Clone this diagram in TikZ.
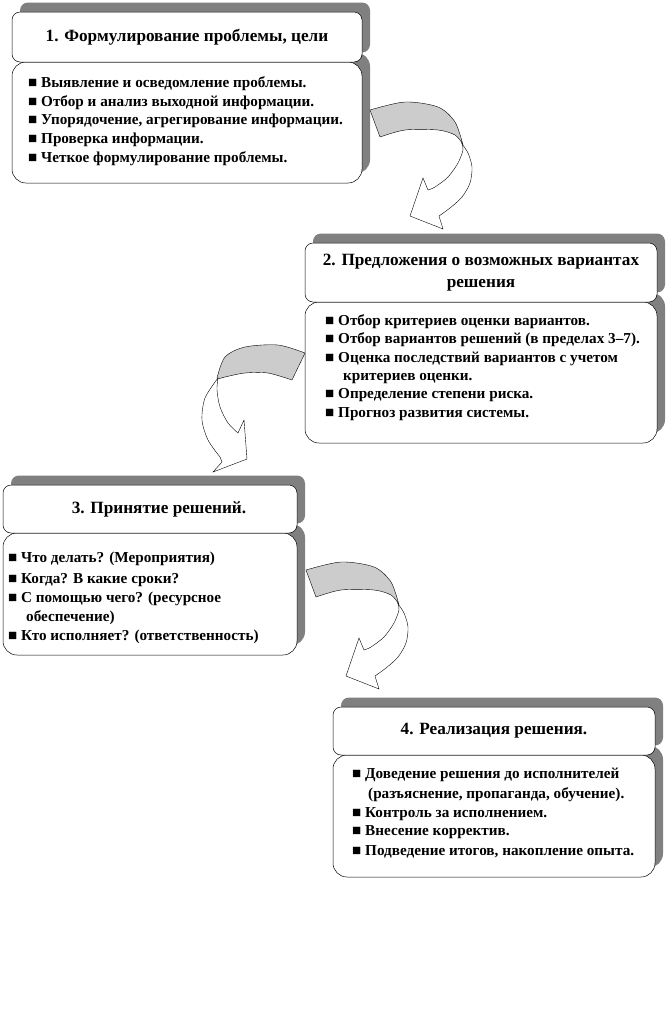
\documentclass[tikz,border=0pt]{standalone}
\usepackage{fontspec}
\setmainfont{Liberation Serif}
\usetikzlibrary{shadows}
\definecolor{shadowgray}{RGB}{128,128,128}
\definecolor{arrowgray}{RGB}{204,204,204}
\tikzset{
  boxshadow/.style={drop shadow={shadow xshift=8pt, shadow yshift=9.5pt, fill=shadowgray, opacity=1}},
  headbox/.style={draw=black, line width=0.5pt, fill=white, rounded corners=8pt, boxshadow, inner sep=0pt,
    font=\fontsize{17.2}{22}\selectfont\bfseries, align=center},
  bodybox/.style={draw=black, line width=0.5pt, fill=white, rounded corners=14pt, boxshadow, inner sep=0pt},
  item/.style={anchor=base west, inner sep=0pt, font=\fontsize{15.2}{17}\selectfont\bfseries},
  arrowback/.style={fill=arrowgray, draw=black, line width=0.4pt, line join=round},
  arrowfront/.style={fill=white, draw=black, line width=0.4pt, line join=miter},
}
\begin{document}
\begin{tikzpicture}[x=1pt,y=-1pt]
\fill[white] (0,0) rectangle (668,1029);
\useasboundingbox (0,0) rectangle (668,1029);

% ---------- Box 1 ----------
\node[bodybox, minimum width=350pt, minimum height=121pt] (c1) at (187,122.5) {};
\node[headbox, minimum width=350pt, minimum height=50pt] (h1) at (187,37) {1. Формулирование проблемы, цели};
\node[item] (c1a) at (28,87)  {■ Выявление и осведомление проблемы.};
\node[item] (c1b) at (28,106) {■ Отбор и анализ выходной информации.};
\node[item] (c1c) at (28,124) {■ Упорядочение, агрегирование информации.};
\node[item] (c1d) at (28,143) {■ Проверка информации.};
\node[item] (c1e) at (28,162) {■ Четкое формулирование проблемы.};

% ---------- Box 2 ----------
\node[bodybox, minimum width=352pt, minimum height=141pt] (c2) at (481,372.5) {};
\node[headbox, minimum width=352pt, minimum height=59pt] (h2) at (481,272.5) {2. Предложения о возможных вариантах\\решения};
\node[item] (c2a) at (325,325) {■ Отбор критериев оценки вариантов.};
\node[item] (c2b) at (325,343) {■ Отбор вариантов решений (в пределах 3–7).};
\node[item] (c2c) at (325,362) {■ Оценка последствий вариантов с учетом};
\node[item] (c2d) at (343,380) {критериев оценки.};
\node[item] (c2e) at (325,398) {■ Определение степени риска.};
\node[item] (c2f) at (325,417) {■ Прогноз развития системы.};

% ---------- Box 3 ----------
\node[bodybox, minimum width=294pt, minimum height=122pt] (c3) at (150,594) {};
\node[headbox, minimum width=294pt, minimum height=48pt] (h3) at (150,509) {\hspace*{18pt}3. Принятие решений.};
\node[item] (c3a) at (8,562) {■ Что делать? (Мероприятия)};
\node[item] (c3b) at (8,583) {■ Когда? В какие сроки?};
\node[item] (c3c) at (8,602) {■ С помощью чего? (ресурсное};
\node[item] (c3d) at (26,621) {обеспечение)};
\node[item] (c3e) at (8,640) {■ Кто исполняет? (ответственность)};

% ---------- Box 4 ----------
\node[bodybox, minimum width=322pt, minimum height=122pt] (c4) at (494,816) {};
\node[headbox, minimum width=322pt, minimum height=48pt] (h4) at (494,731) {4. Реализация решения.};
\node[item] (c4a) at (352,778) {■ Доведение решения до исполнителей};
\node[item] (c4b) at (368,798) {(разъяснение, пропаганда, обучение).};
\node[item] (c4c) at (352,817) {■ Контроль за исполнением.};
\node[item] (c4d) at (352,835) {■ Внесение корректив.};
\node[item] (c4e) at (352,855) {■ Подведение итогов, накопление опыта.};

% ---------- Arrow 1 (box 1 -> box 2) and Arrow 3 (box 3 -> box 4) ----------
\foreach \sx/\sy in {0/0, -64/460} {
\begin{scope}[shift={(\sx,\sy)}]
  \draw[arrowback] plot[smooth] coordinates {(370,110) (405,102) (438,107) (455,122) (463,145)}
     -- plot[smooth] coordinates {(462,143) (455,135) (438,130) (405,130) (380,137)} -- cycle;
  \draw[arrowfront] plot[smooth] coordinates {(462,144) (468,153) (472,167) (470,183) (462,197) (450,208) (439,216)}
     -- (443,229) -- (410,216) -- (423,178)
     -- plot[smooth] coordinates {(428,190) (435,187) (448,177) (458,163) (463,150) (462,144)} -- cycle;
\end{scope}
}

% ---------- Arrow 2 (box 2 -> box 3) ----------
\draw[arrowback] plot[smooth] coordinates {(305,353) (278,345) (245,347) (225,357) (217,378)}
   -- plot[smooth] coordinates {(218,379) (225,377) (245,373) (268,373) (292,380)} -- cycle;
\draw[arrowfront] plot[smooth] coordinates {(218,378) (205,398) (202,420) (208,440) (220,457)}
   -- (222,462) -- (213,472) -- (247,459) -- (244,420)
   -- plot[smooth] coordinates {(238,433) (228,423) (220,407) (217,390) (218,378)} -- cycle;
\end{tikzpicture}
\end{document}
